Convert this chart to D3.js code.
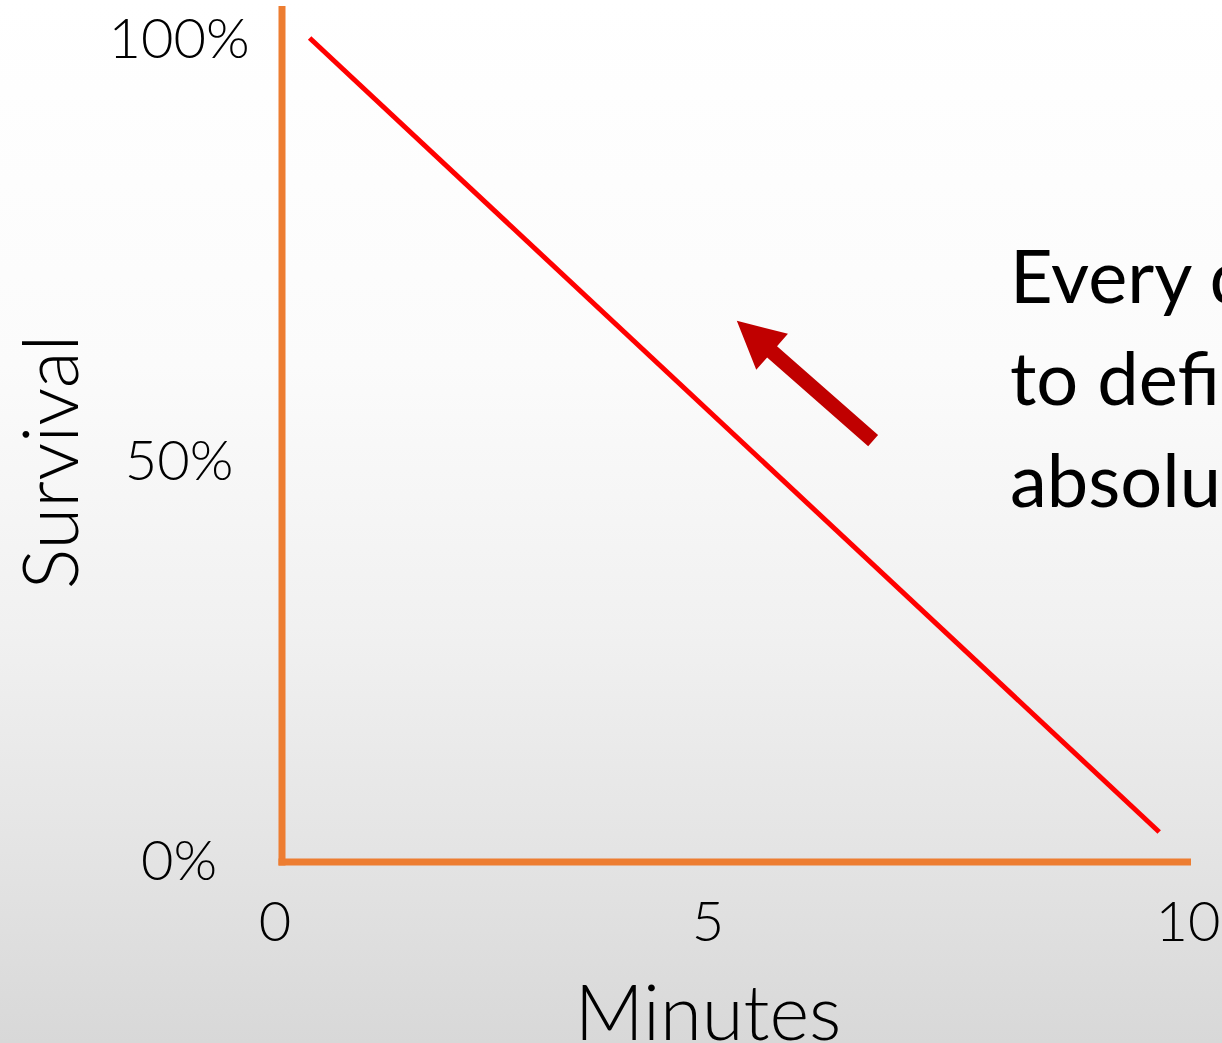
<!DOCTYPE html>
<html>
<head>
<meta charset="utf-8">
<script src="https://cdn.jsdelivr.net/npm/d3@7"></script>
<style>
  html, body { margin: 0; padding: 0; overflow: hidden; }
  svg { display: block; }
</style>
</head>
<body>
<svg id="chart" width="1222" height="1043"></svg>
<script>
// Survival over time: a straight decline from 100% to near zero
const minutes = [0.4, 9.7];
const survival = [100, 3.5];

// Axis tick values and labels
const xTicks = [0, 5, 10];
const xTickLabels = ["0", "5", "10"];
const yTicks = [0, 50, 100];
const yTickLabels = ["0%", "50%", "100%"];

// Annotation arrow (from tail to tip, in minutes / survival %)
const arrowMinutes = [6.72, 5.30];
const arrowSurvival = [52.3, 66.5];

// Annotation text lines
const noteLines = ["Every drug has", "to define its", "absolute risk"];

const W = 1222, H = 1043;
const svg = d3.select("#chart");

// Background: white fading to light grey toward the bottom
const defs = svg.append("defs");
const grad = defs.append("linearGradient")
  .attr("id", "bg").attr("x1", 0).attr("y1", 0).attr("x2", 0).attr("y2", 1);
grad.append("stop").attr("offset", "0%").attr("stop-color", "#ffffff");
grad.append("stop").attr("offset", "35%").attr("stop-color", "#fbfbfb");
grad.append("stop").attr("offset", "60%").attr("stop-color", "#f1f1f1");
grad.append("stop").attr("offset", "80%").attr("stop-color", "#e5e5e5");
grad.append("stop").attr("offset", "100%").attr("stop-color", "#d8d8d8");
svg.append("rect").attr("width", W).attr("height", H).attr("fill", "url(#bg)");

// Scales (tick spacing on this slide is slightly uneven, hence piecewise)
const x = d3.scaleLinear().domain([0, 5, 10]).range([275, 708, 1188]);
const y = d3.scaleLinear().domain([0, 50, 100]).range([860, 460, 38]);

const axisColor = "#ED7D31";
const fontLight = "Lato, 'Open Sans', sans-serif";

// Axis frame
const frameLeft = x(0) + 7, frameBottom = y(0) + 2;
svg.append("line")
  .attr("x1", frameLeft).attr("x2", frameLeft)
  .attr("y1", 6).attr("y2", frameBottom + 3.5)
  .attr("stroke", axisColor).attr("stroke-width", 7);
svg.append("line")
  .attr("x1", frameLeft - 3.5).attr("x2", 1191)
  .attr("y1", frameBottom).attr("y2", frameBottom)
  .attr("stroke", axisColor).attr("stroke-width", 7);

// Y tick labels
svg.append("g").selectAll("text")
  .data(yTicks)
  .join("text")
  .attr("x", 179)
  .attr("y", d => y(d) + 20)
  .attr("text-anchor", "middle")
  .attr("font-family", fontLight)
  .attr("font-weight", 300)
  .attr("font-size", 56)
  .attr("fill", "#000")
  .text((d, i) => yTickLabels[i]);

// X tick labels
svg.append("g").selectAll("text")
  .data(xTicks)
  .join("text")
  .attr("x", d => x(d))
  .attr("y", 941)
  .attr("text-anchor", "middle")
  .attr("font-family", fontLight)
  .attr("font-weight", 300)
  .attr("font-size", 56)
  .attr("fill", "#000")
  .text((d, i) => xTickLabels[i]);

// Axis titles
svg.append("text")
  .attr("transform", "translate(78,462) rotate(-90)")
  .attr("text-anchor", "middle")
  .attr("font-family", fontLight)
  .attr("font-weight", 300)
  .attr("font-size", 76)
  .attr("fill", "#000")
  .text("Survival");

svg.append("text")
  .attr("x", 708)
  .attr("y", 1040)
  .attr("text-anchor", "middle")
  .attr("font-family", fontLight)
  .attr("font-weight", 300)
  .attr("font-size", 76)
  .attr("fill", "#000")
  .text("Minutes");

// Survival line
const pts = minutes.map((m, i) => [m, survival[i]]);
svg.append("path")
  .datum(pts)
  .attr("d", d3.line().x(d => x(d[0])).y(d => y(d[1])))
  .attr("fill", "none")
  .attr("stroke", "#FF0000")
  .attr("stroke-width", 5);

// Block arrow pointing back up the line
(function drawArrow() {
  const tx = x(arrowMinutes[0]), ty = y(arrowSurvival[0]);
  const hx = x(arrowMinutes[1]), hy = y(arrowSurvival[1]);
  const dx = hx - tx, dy = hy - ty;
  const len = Math.hypot(dx, dy);
  const ux = dx / len, uy = dy / len;      // along the arrow
  const px = -uy, py = ux;                 // perpendicular
  const shaftW = 15, headW = 48, headL = 47;
  const bx = hx - ux * headL, by = hy - uy * headL;
  const poly = [
    [tx + px * shaftW / 2, ty + py * shaftW / 2],
    [bx + px * shaftW / 2, by + py * shaftW / 2],
    [bx + px * headW / 2, by + py * headW / 2],
    [hx, hy],
    [bx - px * headW / 2, by - py * headW / 2],
    [bx - px * shaftW / 2, by - py * shaftW / 2],
    [tx - px * shaftW / 2, ty - py * shaftW / 2]
  ];
  svg.append("polygon")
    .attr("points", poly.map(p => p.join(",")).join(" "))
    .attr("fill", "#C00000");
})();

// Annotation text (runs off the right edge)
svg.append("g").selectAll("text")
  .data(noteLines)
  .join("text")
  .attr("x", 1010)
  .attr("y", (d, i) => 303 + i * 102)
  .attr("font-family", "Lato, 'Open Sans', sans-serif")
  .attr("font-weight", 400)
  .attr("font-size", 74)
  .attr("fill", "#000")
  .text(d => d);
</script>
</body>
</html>
